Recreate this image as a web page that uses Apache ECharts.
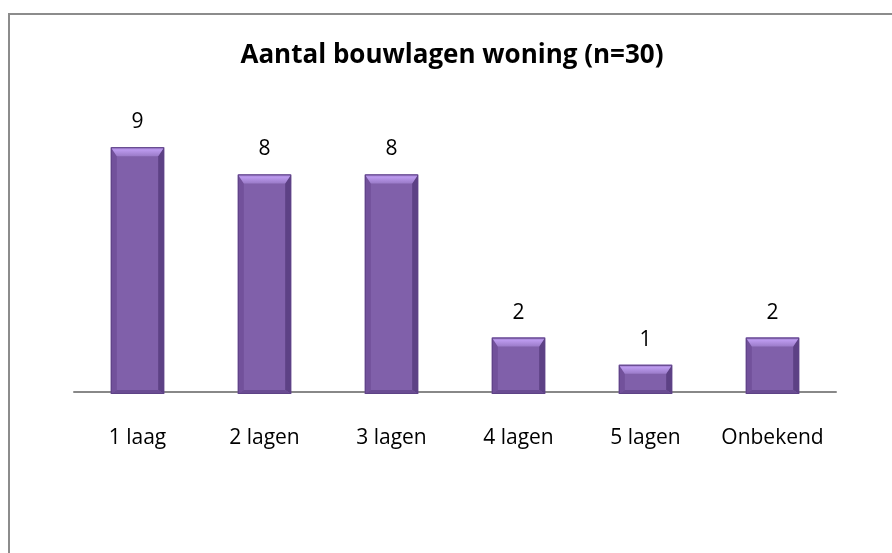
<!DOCTYPE html>
<html>
<head>
<meta charset="utf-8">
<script src="https://cdn.jsdelivr.net/npm/echarts@6/dist/echarts.min.js"></script>
<style>
html,body{margin:0;padding:0;background:#fff;}
#main{width:892px;height:553px;}
</style>
</head>
<body>
<div id="main"></div>
<script>
var titleText = 'Aantal bouwlagen woning (n=30)';
var categories = ['1 laag', '2 lagen', '3 lagen', '4 lagen', '5 lagen', 'Onbekend'];
var values = [9, 8, 8, 2, 1, 2];

var chart = echarts.init(document.getElementById('main'), null, {renderer: 'canvas'});

function renderBar(params, api) {
  var idx = api.value(0);
  var val = api.value(1);
  var top = api.coord([idx, val]);
  var base = api.coord([idx, 0]);
  var bw = api.size([1, 0])[0] * 0.42;
  var x0 = top[0] - bw / 2, x1 = top[0] + bw / 2;
  var y0 = top[1], y1 = base[1] + 2;
  var h = y1 - y0;
  var bt = Math.min(9, h / 3), bs = 6, bb = 4;
  return {
    type: 'group',
    children: [
      {type: 'rect', shape: {x: x0, y: y0, width: bw, height: h}, style: {fill: '#8060aa'}},
      {type: 'polygon', shape: {points: [[x0, y0], [x0 + bs, y0 + bt], [x0 + bs, y1 - bb], [x0, y1]]}, style: {fill: '#72519b'}},
      {type: 'polygon', shape: {points: [[x1, y0], [x1 - bs, y0 + bt], [x1 - bs, y1 - bb], [x1, y1]]}, style: {fill: '#5d4185'}},
      {type: 'polygon', shape: {points: [[x0, y1], [x0 + bs, y1 - bb], [x1 - bs, y1 - bb], [x1, y1]]}, style: {fill: '#6a4c92'}},
      {type: 'polygon', shape: {points: [[x0, y0], [x1, y0], [x1 - bs, y0 + bt], [x0 + bs, y0 + bt]]},
        style: {fill: new echarts.graphic.LinearGradient(0, 0, 0, 1, [{offset: 0, color: '#9474c2'}, {offset: 0.3, color: '#bc9aee'}, {offset: 1, color: '#9a7bc8'}])}},
      {type: 'rect', shape: {x: x0 + 0.5, y: y0 + 0.5, width: bw - 1, height: h - 1}, style: {fill: null, stroke: '#5e4386', lineWidth: 1}},
      {type: 'text', style: {text: String(val), x: top[0], y: y0 - 25, align: 'center', verticalAlign: 'middle',
        fontFamily: 'Open Sans', fontSize: 21, fill: '#000'}}
    ]
  };
}

var option = {
  backgroundColor: '#ffffff',
  animation: false,
  graphic: [
    {type: 'rect', shape: {x: 9, y: 14, width: 900, height: 560}, style: {fill: null, stroke: '#8c8c8c', lineWidth: 2}},
    {type: 'text', style: {text: titleText, x: 452, y: 56, align: 'center', verticalAlign: 'middle',
      fontFamily: 'Open Sans', fontWeight: 'bold', fontSize: 26, fill: '#000'}}
  ],
  grid: {left: 74, right: 56, top: 120, bottom: 161},
  xAxis: {
    type: 'category',
    data: categories,
    axisLine: {show: true, lineStyle: {color: '#888888', width: 2}},
    axisTick: {show: false},
    axisLabel: {interval: 0, hideOverlap: false, margin: 36, fontFamily: 'Open Sans', fontSize: 21, color: '#000'}
  },
  yAxis: {
    type: 'value', min: 0, max: 10, show: false, splitLine: {show: false}
  },
  series: [{
    type: 'custom',
    renderItem: renderBar,
    data: values.map(function (v, i) { return [i, v]; }),
    encode: {x: 0, y: 1},
    z: 3
  }]
};
chart.setOption(option);
</script>
</body>
</html>
